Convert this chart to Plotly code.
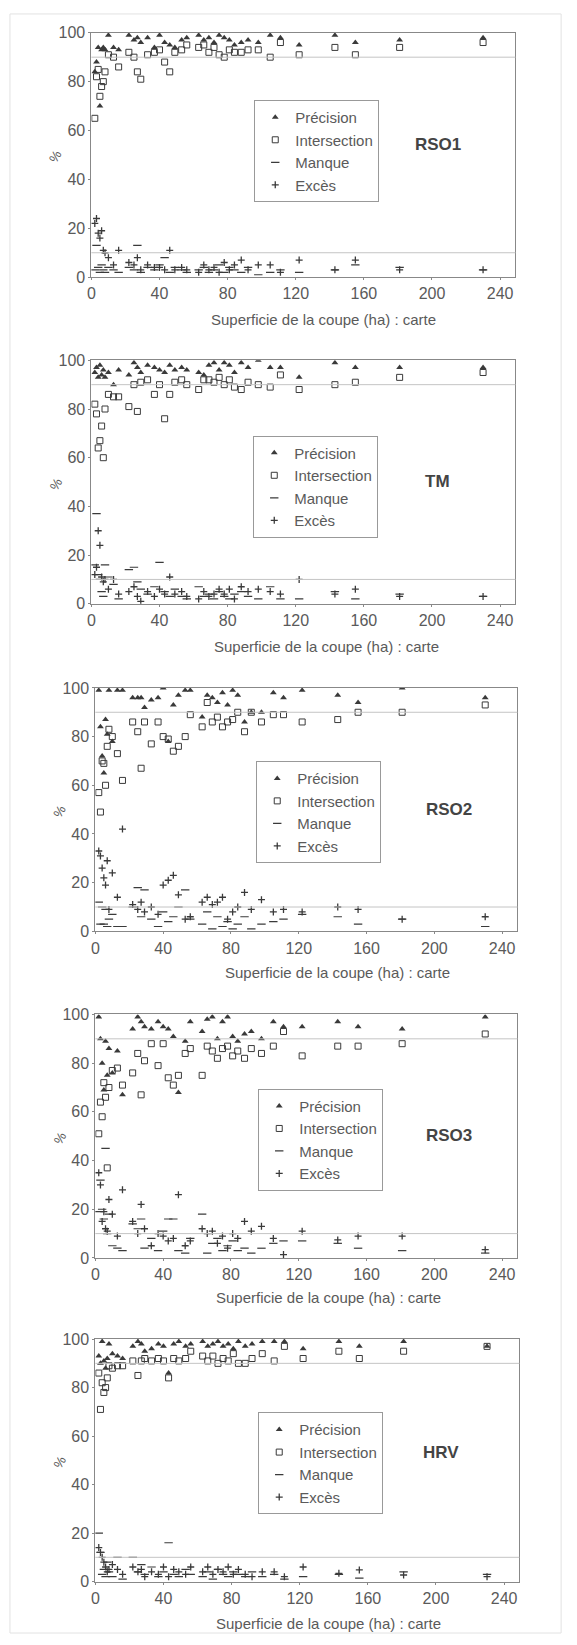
import plotly.graph_objects as go

# Shared cut areas (ha)
AREA = [2, 3, 4, 5, 6, 7, 8, 10, 13, 16, 22, 25, 27, 29, 33, 37, 40, 43, 46, 49,
        53, 56, 63, 66, 69, 72, 75, 78, 81, 84, 88, 92, 98, 105, 111, 122, 143, 155, 181, 230]

PANELS = ["RSO1", "TM", "RSO2", "RSO3", "HRV"]
X_TICKS = [0, 40, 80, 120, 160, 200, 240]
Y_TICKS = [0, 20, 40, 60, 80, 100]

# RSO1
P_RSO1 = [84, 88, 94, 70, 93, 94, 93, 99, 94, 93, 99, 97, 98, 96, 98, 94, 99, 96, 95, 94,
          97, 98, 99, 97, 98, 96, 99, 98, 97, 95, 96, 97, 96, 99, 98, 95, 99, 96, 97, 98]
I_RSO1 = [65, 82, 85, 74, 78, 80, 84, 91, 90, 86, 92, 90, 84, 81, 91, 92, 93, 88, 84, 92,
          93, 95, 94, 95, 92, 94, 91, 90, 93, 92, 92, 93, 93, 90, 96, 91, 94, 91, 94, 96]
M_RSO1 = [3, 13, 4, 2, 5, 3, 2, 4, 3, 2, 4, 3, 13, 2, 4, 3, 5, 8, 2, 4,
          3, 2, 3, 4, 2, 3, 5, 2, 4, 3, 2, 4, 1, 2, 3, 2, 3, 5, 4, 3]
E_RSO1 = [22, 24, 18, 16, 19, 11, 10, 8, 5, 11, 6, 5, 8, 3, 5, 4, 4, 3, 11, 3,
          4, 3, 2, 5, 3, 4, 2, 6, 3, 5, 7, 3, 5, 5, 2, 7, 3, 7, 3, 3]

# TM
P_TM = [95, 97, 93, 98, 94, 96, 93, 95, 90, 96, 94, 99, 97, 95, 98, 97, 96, 95, 98, 96,
        97, 96, 95, 94, 98, 99, 96, 99, 98, 95, 99, 97, 100, 97, 97, 93, 99, 97, 97, 97]
I_TM = [82, 78, 64, 67, 73, 60, 80, 86, 85, 85, 81, 90, 79, 91, 92, 86, 90, 76, 86, 91,
        92, 90, 88, 92, 92, 91, 93, 90, 92, 89, 88, 91, 90, 89, 94, 88, 90, 91, 93, 95]
M_TM = [16, 37, 12, 10, 5, 3, 16, 11, 8, 2, 14, 15, 9, 6, 4, 7, 17, 5, 3, 6,
        3, 2, 7, 3, 4, 2, 5, 3, 2, 4, 5, 3, 2, 7, 2, 2, 5, 2, 4, 3]
E_TM = [12, 15, 30, 24, 11, 9, 10, 6, 10, 4, 5, 7, 3, 1, 5, 3, 6, 4, 11, 4,
        5, 3, 2, 5, 3, 4, 6, 4, 6, 2, 7, 5, 6, 5, 4, 10, 4, 6, 3, 3]

# RSO2
P_RSO2 = [99, 84, 72, 65, 87, 81, 99, 78, 99, 99, 96, 96, 96, 92, 95, 96, 100, 78, 93, 97,
          99, 99, 88, 97, 96, 94, 98, 93, 99, 97, 86, 90, 90, 98, 96, 99, 97, 94, 100, 96]
I_RSO2 = [57, 49, 70, 69, 60, 76, 83, 80, 73, 62, 86, 82, 67, 86, 77, 86, 80, 79, 74, 76,
          80, 89, 84, 94, 86, 88, 84, 86, 87, 90, 82, 90, 86, 89, 89, 86, 87, 90, 90, 93]
M_RSO2 = [12, 3, 10, 3, 9, 2, 5, 7, 2, 2, 10, 18, 6, 17, 5, 2, 8, 4, 6, 10,
          17, 5, 3, 8, 1, 6, 2, 4, 1, 3, 6, 1, 3, 4, 5, 7, 6, 3, 5, 2]
E_RSO2 = [33, 31, 26, 22, 19, 29, 9, 24, 14, 42, 11, 9, 12, 8, 10, 7, 19, 21, 23, 15,
          5, 6, 12, 14, 11, 12, 14, 5, 8, 10, 16, 9, 13, 8, 9, 8, 10, 9, 5, 6]

# RSO3
P_RSO3 = [99, 90, 80, 69, 89, 75, 86, 76, 85, 67, 94, 99, 97, 95, 94, 97, 95, 94, 91, 68,
          89, 97, 93, 98, 99, 90, 97, 99, 91, 89, 92, 93, 90, 97, 95, 95, 97, 95, 94, 99]
I_RSO3 = [51, 64, 58, 72, 66, 37, 70, 77, 78, 71, 76, 84, 67, 81, 88, 79, 88, 74, 71, 75,
          84, 86, 75, 87, 85, 82, 86, 87, 83, 85, 82, 86, 84, 87, 93, 83, 87, 87, 88, 92]
M_RSO3 = [19, 32, 20, 16, 45, 10, 18, 5, 4, 3, 14, 12, 16, 4, 8, 3, 11, 16, 16, 3,
          2, 8, 18, 2, 6, 8, 3, 5, 7, 3, 4, 2, 4, 6, 7, 7, 6, 4, 3, 2]
E_RSO3 = [35, 30, 15, 19, 12, 11, 24, 18, 9, 28, 15, 10, 22, 12, 5, 10, 9, 7, 8, 26,
          5, 7, 12, 10, 11, 6, 9, 4, 10, 8, 15, 11, 13, 8, 1.4, 11, 7.4, 9, 9, 3.4]

# HRV
P_HRV = [93, 90, 99, 91, 88, 92, 98, 94, 93, 92, 97, 99, 98, 95, 96, 98, 97, 86, 98, 99,
         97, 98, 99, 97, 98, 99, 97, 98, 96, 99, 97, 98, 99, 99, 99, 96, 99, 97, 99, 97]
I_HRV = [86, 71, 82, 78, 80, 84, 89, 88, 89, 89, 91, 85, 91, 92, 91, 92, 91, 84, 92, 91,
         92, 95, 93, 91, 93, 90, 92, 91, 94, 90, 90, 92, 94, 91, 97, 92, 95, 92, 95, 97]
M_HRV = [20, 12, 3, 5, 2, 8, 4, 2, 10, 1, 10, 4, 7, 3, 6, 2, 4, 16, 3, 2,
         5, 3, 2, 4, 1, 5, 3, 2, 4, 3, 2, 4, 2, 3, 1, 2, 3, 1.4, 4, 3]
E_HRV = [14, 12, 10, 8, 6, 4, 5, 7, 5, 3, 6, 4, 5, 2, 4, 3, 6, 2, 5, 4,
         3, 6, 4, 6, 3, 5, 4, 6, 3, 5, 3, 2, 4, 4, 2, 6, 3.4, 4.8, 2.7, 2]

SERIES_NAMES = ["Précision", "Intersection", "Manque", "Excès"]
DATA = {
    "RSO1": [P_RSO1, I_RSO1, M_RSO1, E_RSO1],
    "TM": [P_TM, I_TM, M_TM, E_TM],
    "RSO2": [P_RSO2, I_RSO2, M_RSO2, E_RSO2],
    "RSO3": [P_RSO3, I_RSO3, M_RSO3, E_RSO3],
    "HRV": [P_HRV, I_HRV, M_HRV, E_HRV],
}

W, H = 577, 1645
# pixel geometry of plot areas (left, right, top, bottom)
BOXES = [(88, 515, 25, 272), (88, 515, 356, 602), (92, 517, 687, 933),
         (92, 517, 1017, 1263), (92, 519, 1345, 1590)]
LEGEND_POS = [(252, 93), (251, 432), (254, 761), (256, 1092), (256, 1419)]
LABEL_POS = [(437, 138), (437, 478), (448, 810), (448, 1139), (440, 1460)]
XTITLE_POS = [(322, 315), (325, 645), (336, 975), (327, 1303), (327, 1632)]

FONT = "Liberation Sans, Arial, sans-serif"
MK = "#3a3a3a"
TXT = "#5a5a5a"

marker_styles = [
    dict(symbol="triangle-up", size=6, color=MK),
    dict(symbol="square-open", size=6, color=MK, line=dict(width=1, color=MK)),
    dict(symbol="line-ew-open", size=6, color=MK, line=dict(width=1.2, color=MK)),
    dict(symbol="cross-thin-open", size=5, color=MK, line=dict(width=1.3, color=MK)),
]

fig = go.Figure()
layout = dict(width=W, height=H, margin=dict(l=0, r=0, t=0, b=0),
              paper_bgcolor="white", plot_bgcolor="white", showlegend=True,
              font=dict(family=FONT, color=TXT))
shapes = []
annotations = []

for k, name in enumerate(PANELS):
    n = k + 1
    sfx = "" if n == 1 else str(n)
    leg = "legend" if n == 1 else f"legend{n}"
    l, r, t, b = BOXES[k]
    for s, sname in enumerate(SERIES_NAMES):
        fig.add_trace(go.Scatter(
            x=AREA, y=DATA[name][s], mode="markers", name=sname,
            marker=marker_styles[s], xaxis=f"x{sfx}", yaxis=f"y{sfx}",
            legend=leg, showlegend=True))
    layout[f"xaxis{sfx}"] = dict(
        domain=[l / W, r / W], range=[0, 249], anchor=f"y{sfx}",
        tickvals=X_TICKS, showgrid=False, zeroline=False,
        showline=True, mirror=True, linecolor="#888", linewidth=1,
        ticks="outside", ticklen=2, tickcolor="#888",
        tickfont=dict(size=16, color=TXT, family=FONT))
    layout[f"yaxis{sfx}"] = dict(
        domain=[1 - b / H, 1 - t / H], range=[0, 100], anchor=f"x{sfx}",
        tickvals=Y_TICKS, showgrid=False, zeroline=False,
        showline=True, mirror=True, linecolor="#888", linewidth=1,
        ticks="outside", ticklen=2, tickcolor="#888",
        tickfont=dict(size=16, color=TXT, family=FONT))
    lx, ly = LEGEND_POS[k]
    layout[leg] = dict(x=lx / W, y=1 - ly / H, xanchor="left", yanchor="top",
                       bgcolor="white", bordercolor="#999", borderwidth=1,
                       font=dict(size=15, color=TXT, family=FONT),
                       itemwidth=30, tracegroupgap=0)
    for yv in (90, 10):
        shapes.append(dict(type="line", xref=f"x{sfx} domain", yref=f"y{sfx}",
                           x0=0, x1=1, y0=yv, y1=yv,
                           line=dict(color="#c4c4c4", width=1)))
    px, py = LABEL_POS[k]
    annotations.append(dict(x=px / W, y=1 - py / H, xref="paper", yref="paper",
                            xanchor="center", yanchor="middle",
                            text=f"<b>{name}</b>", showarrow=False,
                            font=dict(size=17, color="#444", family=FONT)))
    tx, ty = XTITLE_POS[k]
    annotations.append(dict(x=tx / W, y=1 - ty / H, xref="paper", yref="paper",
                            xanchor="center", yanchor="middle",
                            text="Superficie de la coupe (ha) : carte", showarrow=False,
                            font=dict(size=15, color=TXT, family=FONT)))
    annotations.append(dict(x=(l - 36) / W, y=1 - ((t + b) / 2 + 2) / H,
                            xref="paper", yref="paper", xanchor="center", yanchor="middle",
                            text="%", showarrow=False,
                            textangle=-60, font=dict(size=13, color=TXT, family=FONT)))

# faint page frame of the scan
shapes.append(dict(type="rect", xref="paper", yref="paper",
                   x0=6 / W, x1=561 / W, y0=3 / H, y1=1 - 6 / H,
                   line=dict(color="#e2e2e2", width=1)))

layout["shapes"] = shapes
layout["annotations"] = annotations
fig.update_layout(**layout)
fig.write_html("out.html", config=dict(displayModeBar=False),
               post_script="document.body.style.margin='0px';document.body.style.overflow='hidden';")
